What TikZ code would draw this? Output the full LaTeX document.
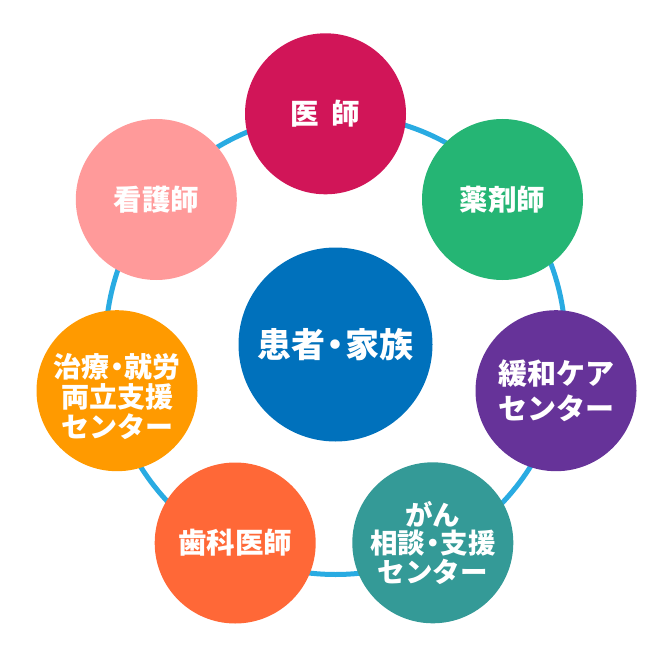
\documentclass[tikz,border=0pt]{standalone}
\usepackage{fontspec}
\newfontfamily\jp{Noto Sans CJK JP}
\newcommand\jdot{\kern-0.22em・\kern-0.22em}
\definecolor{cRing}{HTML}{29ABE2}
\definecolor{cPat}{HTML}{0071BC}
\definecolor{cDoc}{HTML}{D11558}
\definecolor{cPha}{HTML}{25B574}
\definecolor{cPal}{HTML}{663399}
\definecolor{cGan}{HTML}{349A97}
\definecolor{cDen}{HTML}{FF6837}
\definecolor{cWrk}{HTML}{FF9A00}
\definecolor{cNur}{HTML}{FF9A9A}
\begin{document}
\begin{tikzpicture}[x=1pt,y=-1pt,
  bubble/.style={circle, fill=#1, minimum size=161pt, inner sep=0pt, text=white, align=center,
    font=\jp\bfseries\fontsize{28.5}{30}\selectfont},
  ringline/.style={draw=cRing, line width=5pt}]
\useasboundingbox (0,0) rectangle (671,660);
\coordinate (mid) at (335.5,344.5);
\draw[ringline] (mid) circle[radius=230pt];
\node[bubble=cPat, minimum size=194pt, font=\jp\bfseries\fontsize{34}{36}\selectfont] (pat) at (mid) {患者\jdot 家族};
\node[bubble=cDoc] (doc) at (325.5,113.8) {医\hspace{0.45em}師};
\node[bubble=cPha] (pha) at (502.5,199.5) {薬剤師};
\node[bubble=cNur] (nur) at (156.3,199.5) {看護師};
\node[bubble=cWrk] (wrk) at (117,390.7) {};
\node[text=white, align=center, font=\jp\bfseries\fontsize{28}{30}\selectfont] (wrkt) at ([yshift=-6pt]wrk.center) {治療\jdot 就労\\両立支援\\センター};
\node[bubble=cPal, font=\jp\bfseries\fontsize{29}{35}\selectfont] (pal) at (556,390.7) {緩和ケア\\センター};
\node[bubble=cGan, font=\jp\bfseries\fontsize{27.5}{28.5}\selectfont] (gan) at (432.8,542.8) {がん\\相談\jdot 支援\\センター};
\node[bubble=cDen] (den) at (235.2,543) {歯科医師};
\end{tikzpicture}
\end{document}
